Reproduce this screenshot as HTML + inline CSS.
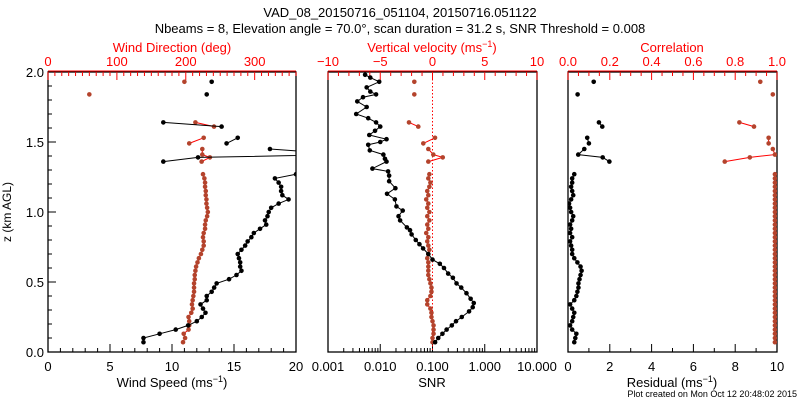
<!DOCTYPE html>
<html><head><meta charset="utf-8">
<style>
html,body{margin:0;padding:0;background:#fff;}
svg{display:block;font-family:"Liberation Sans",sans-serif;}
</style></head>
<body>
<svg id="chart" width="800" height="400" viewBox="0 0 800 400" xmlns="http://www.w3.org/2000/svg">
<defs>
<clipPath id="clip1"><rect x="48" y="72" width="248" height="280"/></clipPath>
<clipPath id="clip2"><rect x="328" y="72" width="209" height="280"/></clipPath>
<clipPath id="clip3"><rect x="568" y="72" width="209" height="280"/></clipPath>
</defs>
<text x="400" y="17" text-anchor="middle" font-size="13">VAD_08_20150716_051104, 20150716.051122</text>
<text x="400" y="33" text-anchor="middle" font-size="13">Nbeams = 8, Elevation angle = 70.0°, scan duration = 31.2 s, SNR Threshold = 0.008</text>
<text x="11" y="212" text-anchor="middle" font-size="12" transform="rotate(-90 11 212)">z (km AGL)</text>
<text x="797" y="397" text-anchor="end" font-size="9">Plot created on Mon Oct 12 20:48:02 2015</text>
<g id="layer"></g>
</svg>
<script>
// ---- data ----
const heights = [0.07,0.10,0.13,0.16,0.19,0.22,0.25,0.28,0.31,0.34,0.37,0.40,0.43,0.46,0.49,0.52,0.55,0.58,0.61,0.64,0.67,0.70,0.73,0.76,0.79,0.82,0.85,0.88,0.91,0.94,0.97,1.00,1.03,1.06,1.09,1.12,1.15,1.18,1.21,1.24,1.27,
  null,1.36,1.39,1.41,1.45,null,1.49,1.53,null,1.61,1.64,null,1.84,null,1.93];
const windSpeed = [7.7,7.7,9.0,10.3,11.3,12.0,12.4,12.7,12.5,12.3,12.8,12.8,13.2,13.4,13.6,14.6,15.2,15.6,15.5,15.5,15.4,15.3,15.6,15.9,16.1,16.4,16.6,17.1,17.6,17.5,17.7,17.8,18.0,18.6,19.4,18.9,18.8,18.8,18.6,18.3,20.0,
  null,9.3,12.1,24,17.9,null,14.4,15.3,null,14.0,9.3,null,12.8,null,13.2];
const windDir = [196,199,197,204,205,205,204,208,210,209,210,211,212,212,212,213,213,214,215,217,219,222,224,226,226,225,226,228,228,229,231,232,231,230,230,229,229,228,228,227,225,
  null,223,235,224,224,null,205,226,null,241,214,null,60,null,198];
const vertVel = [0.0,0.0,0.1,0.1,0.1,0.0,-0.1,-0.1,-0.2,-0.5,-0.5,-0.2,-0.1,-0.1,-0.2,-0.3,-0.4,-0.4,-0.4,-0.4,-0.5,-0.4,-0.3,-0.4,-0.5,-0.4,-0.6,-0.4,-0.5,-0.3,-0.5,-0.3,-0.5,-0.4,-0.6,-0.4,-0.5,-0.3,-0.2,-0.4,-0.3,
  null,-0.4,0.98,0.08,-0.4,null,-0.88,0.24,null,-1.36,-2.25,null,-1.74,null,-1.74];
const residual = [0.3,0.35,0.4,0.2,0.1,0.2,0.25,0.3,0.2,0.1,0.3,0.4,0.45,0.5,0.5,0.55,0.6,0.65,0.6,0.45,0.3,0.2,0.2,0.15,0.1,0.2,0.1,0.15,0.1,0.2,0.25,0.15,0.1,0.05,0.15,0.25,0.2,0.15,0.2,0.2,0.3,
  null,1.98,1.66,0.49,0.78,null,1.0,0.92,null,1.64,1.48,null,0.46,null,1.23];
const correlation = [0.99,0.99,0.99,0.99,0.99,0.99,0.99,0.99,0.99,0.99,0.99,0.99,0.99,0.99,0.99,0.99,0.99,0.99,0.99,0.99,0.99,0.99,0.99,0.99,0.99,0.99,0.99,0.99,0.99,0.99,0.99,0.99,0.99,0.99,0.99,0.99,0.99,0.99,0.99,0.99,0.99,
  null,0.75,0.87,0.99,0.98,null,0.96,0.96,null,0.89,0.82,null,0.98,null,0.92];
const snrHeights = [0.07,0.10,0.13,0.16,0.19,0.22,0.25,0.29,0.32,0.35,0.38,0.42,0.46,0.49,0.53,0.56,0.60,0.63,0.66,0.70,0.74,0.77,0.80,0.84,0.87,0.89,0.94,0.97,1.01,1.04,1.09,1.13,1.17,1.22,1.26,1.29,1.31,1.36,1.38,1.41,1.44,1.48,1.50,1.52,1.55,1.58,1.61,1.64,1.67,1.70,1.75,1.79,1.82,1.84,1.86,1.89,1.93,1.96,1.98];
const snrLog = [-0.95,-0.89,-0.81,-0.73,-0.63,-0.55,-0.44,-0.30,-0.23,-0.21,-0.27,-0.35,-0.45,-0.54,-0.61,-0.70,-0.78,-0.86,-1.00,-1.08,-1.18,-1.25,-1.32,-1.40,-1.43,-1.49,-1.62,-1.65,-1.57,-1.69,-1.72,-1.87,-1.71,-1.83,-1.83,-1.85,-2.15,-1.88,-1.91,-1.94,-2.20,-2.23,-2.00,-1.88,-2.21,-2.10,-2.00,-2.08,-2.23,-2.46,-2.26,-2.44,-2.33,-2.08,-2.19,-2.26,-2.02,-2.19,-2.29];
const speedTicks = [0,5,10,15,20];
const dirTicks = [0,100,200,300];
const snrTickLabels = ["0.001","0.010","0.100","1.000","10.000"];
const vvTicks = [-10,-5,0,5,10];
const resTicks = [0,2,4,6,8,10];
const corrTicks = ["0.0","0.2","0.4","0.6","0.8","1.0"];
const zTicks = ["0.0","0.5","1.0","1.5","2.0"];

// ---- axes ----
const Y0=352, Y1=72;
const yz = z => Y0 - (z/2)*(Y0-Y1);
const xSpeed = v => 48 + v/20*248;
const xDir = v => 48 + v/360*248;
const xSnr = l => 328 + (l+3)/4*209;
const xVV = v => 328 + (v+10)/20*209;
const xRes = v => 568 + v/10*209;
const xCorr = v => 568 + v*209;

const NS="http://www.w3.org/2000/svg";
const layer=document.getElementById('layer');
function mk(tag,attrs,parent){const e=document.createElementNS(NS,tag);for(const k in attrs)e.setAttribute(k,attrs[k]);(parent||layer).appendChild(e);return e;}
function txt(x,y,s,size,fill,anchor){const t=mk('text',{x:x,y:y,'font-size':size,fill:fill,'text-anchor':anchor||'middle'});t.textContent=s;return t;}

function frame(x0,x1,name){
  const r=mk('rect',{x:x0,y:Y1,width:x1-x0,height:Y0-Y1,fill:'none',stroke:'#000','stroke-width':1.3});
  
  
}
function tick(x,y1,y2,col){mk('line',{x1:x,x2:x,y1:y1,y2:y2,stroke:col,'stroke-width':1});}

// Panel frames
frame(48,296,'wind-panel-frame');
frame(328,537,'snr-panel-frame');
frame(568,777,'residual-panel-frame');

// left z ticks (panel 1)
for(let i=0;i<=20;i++){const y=yz(i*0.1);mk('line',{x1:48,x2:48+(i%5==0?8:4),y1:y,y2:y,stroke:'#000'});}
zTicks.forEach((s,i)=>{const t=txt(44,yz(i*0.5)+5,s,13,'#000','end');});

// Panel 1 bottom ticks
for(let v=0;v<=20;v++){tick(xSpeed(v),Y0,Y0-(v%5==0?8:4),'#000');}
speedTicks.forEach(v=>{const t=txt(xSpeed(v),371,String(v),13,'#000');});
// Panel 1 top ticks
mk('line',{x1:48,x2:296,y1:Y1-1,y2:Y1-1,stroke:'#f00'});
for(let v=0;v<=360;v+=10){tick(xDir(v),Y1,Y1+(v%100==0?8:4),'#f00');}
dirTicks.forEach(v=>{const t=txt(xDir(v),66,String(v),13,'#f00');});

// Panel 2 bottom log ticks
for(let d=-3;d<=1;d++){tick(xSnr(d),Y0,Y0-8,'#000');if(d<1){for(let m=2;m<=9;m++)tick(xSnr(d+Math.log10(m)),Y0,Y0-4,'#000');}}
snrTickLabels.forEach((s,i)=>{const t=txt(xSnr(i-3),371,s,13,'#000');});
// Panel 2 top ticks
mk('line',{x1:328,x2:537,y1:Y1-1,y2:Y1-1,stroke:'#f00'});
for(let v=-10;v<=10;v++){tick(xVV(v),Y1,Y1+(v%5==0?8:4),'#f00');}
vvTicks.forEach(v=>{const t=txt(xVV(v),66,(v<0?'\u2212':'')+Math.abs(v),13,'#f00');});
// zero dotted
mk('line',{x1:xVV(0),x2:xVV(0),y1:Y1,y2:Y0,stroke:'#f00','stroke-dasharray':'1.5,2','stroke-width':1});

// Panel 3 bottom ticks
for(let v=0;v<=10;v++){tick(xRes(v),Y0,Y0-(v%2==0?8:4),'#000');}
resTicks.forEach(v=>{const t=txt(xRes(v),371,String(v),13,'#000');});
mk('line',{x1:568,x2:777,y1:Y1-1,y2:Y1-1,stroke:'#f00'});
for(let i=0;i<=20;i++){tick(xCorr(i*0.05),Y1,Y1+(i%4==0?8:4),'#f00');}
corrTicks.forEach((s,i)=>{const t=txt(xCorr(i*0.2),66,s,13,'#f00');});

// axis titles
function title(x,y,html,col,name){const t=mk('text',{x:x,y:y,'font-size':13,fill:col,'text-anchor':'middle'});t.innerHTML=html;}
title(172,52,'Wind Direction (deg)','#f00','top-axis-title-direction');
title(432,52,'Vertical velocity (ms<tspan font-size="9" dy="-5">−1</tspan><tspan dy="5">)</tspan>','#f00','top-axis-title-vv');
title(672,52,'Correlation','#f00','top-axis-title-correlation');
title(172,387,'Wind Speed (ms<tspan font-size="9" dy="-5">−1</tspan><tspan dy="5">)</tspan>','#000','x-axis-title-speed');
title(432,387,'SNR','#000','x-axis-title-snr');
title(672,387,'Residual (ms<tspan font-size="9" dy="-5">−1</tspan><tspan dy="5">)</tspan>','#000','x-axis-title-residual');

// series drawing
function series(zs,vals,xf,lineCol,ptCol,clip,name){
  const g=mk('g',{'clip-path':'url(#'+clip+')'});
  
  
  let seg=[];
  const flush=()=>{if(seg.length>1)mk('polyline',{points:seg.join(' '),fill:'none',stroke:lineCol,'stroke-width':1},g);seg=[];};
  for(let i=0;i<zs.length;i++){
    if(zs[i]===null||vals[i]===null){flush();continue;}
    seg.push(xf(vals[i]).toFixed(1)+','+yz(zs[i]).toFixed(1));
  }
  flush();
  for(let i=0;i<zs.length;i++){
    if(zs[i]===null||vals[i]===null)continue;
    const c=mk('circle',{cx:xf(vals[i]),cy:yz(zs[i]),r:2.3,fill:ptCol},g);
    
    
  }
}
series(heights,windDir,xDir,'#f00','#b4432c','clip1','wind-direction-series');
series(heights,windSpeed,xSpeed,'#000','#000','clip1','wind-speed-series');
series(heights,vertVel,xVV,'#f00','#b4432c','clip2','vertical-velocity-series');
series(snrHeights,snrLog,xSnr,'#000','#000','clip2','snr-series');
series(heights,correlation,xCorr,'#f00','#b4432c','clip3','correlation-series');
series(heights,residual,xRes,'#000','#000','clip3','residual-series');
</script>
</body></html>
